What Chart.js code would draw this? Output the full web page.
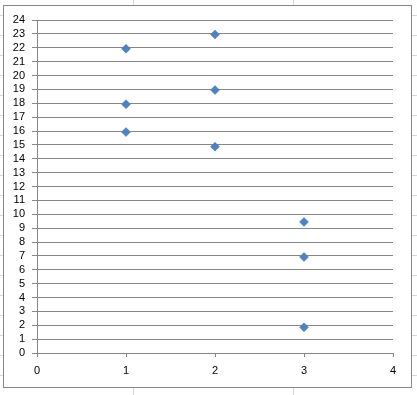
<!DOCTYPE html>
<html>
<head>
<meta charset="utf-8">
<script src="https://cdn.jsdelivr.net/npm/chart.js@4/dist/chart.umd.min.js"></script>
<style>
  html, body { margin: 0; padding: 0; }
  body {
    width: 417px; height: 395px; overflow: hidden; position: relative;
    background-color: #fff;
    background-image:
      linear-gradient(to right, transparent 159px, #D0D7E5 159px),
      linear-gradient(to bottom, transparent 19px, #D0D7E5 19px);
    background-size: 160px 100%, 100% 20px;
    background-position: -26px 0, 0 -4px;
  }
  canvas { position: absolute; left: 0; top: 0; }
</style>
</head>
<body>
<canvas id="c" width="417" height="395"></canvas>
<script>
// Data
const xValues = [1, 1, 1, 2, 2, 2, 3, 3, 3];
const yValues = [21.93, 17.93, 15.92, 22.95, 18.95, 14.87, 9.45, 6.92, 1.85];
const xTickValues = [0, 1, 2, 3, 4];
const yTickValues = Array.from({length: 25}, (_, i) => i); // 0..24 tick labels

const points = xValues.map((x, i) => ({ x: x, y: yValues[i] }));

const frame = {
  id: 'frame',
  beforeDraw(chart) {
    const ctx = chart.ctx;
    ctx.save();
    ctx.fillStyle = '#ffffff';
    ctx.fillRect(3, 5, 409, 383);
    ctx.strokeStyle = '#868686';
    ctx.lineWidth = 1;
    ctx.strokeRect(3.5, 5.5, 408, 382);
    ctx.restore();
  }
};

new Chart(document.getElementById('c'), {
  type: 'scatter',
  data: {
    datasets: [{
      data: points,
      pointStyle: 'rectRot',
      pointRadius: 4.5,
      pointHoverRadius: 4.5,
      backgroundColor: '#4F81BD',
      borderColor: '#4A7EBB',
      borderWidth: 0.5
    }]
  },
  options: {
    responsive: false,
    animation: false,
    devicePixelRatio: 1,
    layout: { padding: { left: 0, right: 24, top: 20, bottom: 0 } },
    plugins: { legend: { display: false }, tooltip: { enabled: false } },
    scales: {
      x: {
        type: 'linear',
        min: 0, max: 4,
        afterFit(scale) { scale.height = 42; },
        afterBuildTicks(scale) { scale.ticks = xTickValues.map(v => ({ value: v })); },
        ticks: { stepSize: 1, padding: 7, color: '#000', font: { family: 'Liberation Sans, Arial', size: 11 }, autoSkip: false, maxRotation: 0 },
        grid: { drawOnChartArea: false, drawTicks: true, tickLength: 4, color: '#868686' },
        border: { display: true, color: '#868686' }
      },
      y: {
        type: 'linear',
        min: 0, max: 24,
        afterFit(scale) { scale.width = 37; },
        afterBuildTicks(scale) { scale.ticks = yTickValues.map(v => ({ value: v })); },
        ticks: { stepSize: 1, padding: 7, color: '#000', font: { family: 'Liberation Sans, Arial', size: 11 }, autoSkip: false, maxTicksLimit: 30 },
        grid: { drawOnChartArea: true, drawTicks: true, tickLength: 5, color: '#868686' },
        border: { display: true, color: '#868686' }
      }
    }
  },
  plugins: [frame]
});
</script>
</body>
</html>
